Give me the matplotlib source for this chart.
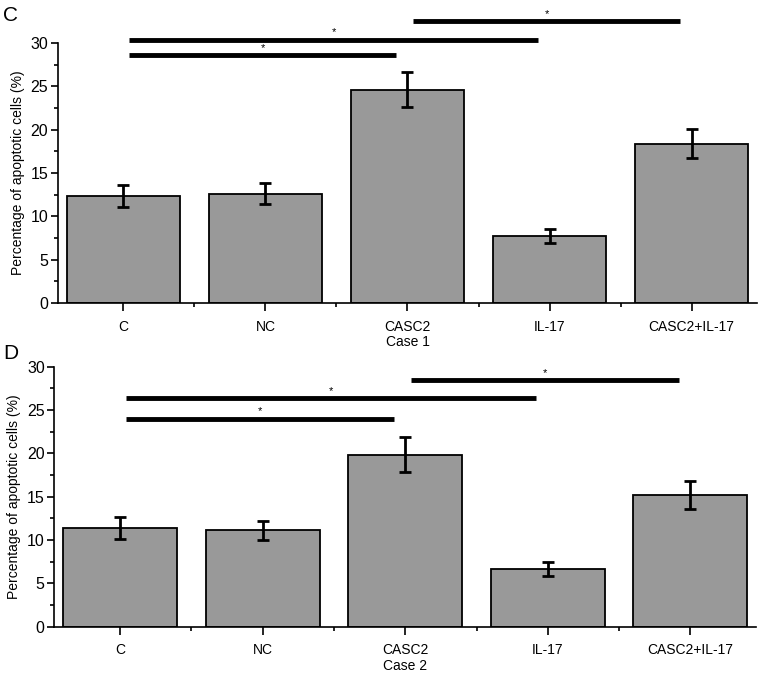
import matplotlib.pyplot as plt
import numpy as np

plt.rcParams['font.family'] = ['Liberation Sans', 'DejaVu Sans']

groups = ["C", "NC", "CASC2", "IL-17", "CASC2+IL-17"]

# Case 1 (panel C)
case1_mean = [12.35, 12.6, 24.6, 7.75, 18.4]
case1_err = [1.25, 1.2, 2.0, 0.8, 1.65]
# Case 2 (panel D)
case2_mean = [11.35, 11.1, 19.85, 6.65, 15.2]
case2_err = [1.25, 1.15, 2.05, 0.8, 1.6]

# significance brackets: (start group, end group, height)
case1_sig = [(0, 2, 28.6), (0, 3, 30.4), (2, 4, 32.5)]
case2_sig = [(0, 2, 24.0), (0, 3, 26.35), (2, 4, 28.45)]


def draw_panel(ax, means, errs, sigs, xlabel):
    x = np.arange(len(groups))
    ax.bar(x, means, width=0.8, color="#999999", edgecolor="black", linewidth=1.3, zorder=2)
    ax.errorbar(x, means, yerr=errs, fmt="none", ecolor="black", elinewidth=2,
                capsize=4, capthick=2, zorder=3)

    for a, b, h in sigs:
        x0, x1 = a + 0.04, b - 0.08
        ax.plot([x0, x1], [h, h], color="black", lw=3.5, solid_capstyle="butt",
                clip_on=False, zorder=4)
        ax.text((x0 + x1) / 2, h + 0.85, "*", ha="center", va="center", fontsize=8,
                clip_on=False)

    ax.set_xlim(-0.46, 4.46)
    ax.set_ylim(0, 30)
    ax.set_xticks(x)
    ax.set_xticklabels(groups, fontsize=10)
    ax.set_xticks(x[:-1] + 0.5, minor=True)
    ax.set_yticks(np.arange(0, 31, 5))
    ax.set_yticks(np.arange(2.5, 30, 5), minor=True)
    ax.tick_params(axis="y", labelsize=11.5, length=5, width=1.2, pad=2)
    ax.tick_params(axis="y", which="minor", length=3, width=1.2)
    ax.tick_params(axis="x", length=6, width=1.2, pad=6)
    ax.tick_params(axis="x", which="minor", length=3, width=1.2)
    for s in ["top", "right"]:
        ax.spines[s].set_visible(False)
    for s in ["left", "bottom"]:
        ax.spines[s].set_linewidth(1.2)
    ax.set_xlabel(xlabel, fontsize=10, labelpad=1)
    ax.set_ylabel("Percentage of apoptotic cells (%)", fontsize=10, labelpad=4)
    return ax


fig = plt.figure(figsize=(7.65, 6.74), dpi=100)
ax1 = fig.add_axes([0.0758, 0.5504, 0.9137, 0.3858])
ax2 = fig.add_axes([0.0712, 0.0702, 0.9170, 0.3858])

draw_panel(ax1, case1_mean, case1_err, case1_sig, "Case 1")
draw_panel(ax2, case2_mean, case2_err, case2_sig, "Case 2")

fig.text(0.004, 0.977, "C", fontsize=15, ha="left", va="center")
fig.text(0.004, 0.476, "D", fontsize=15, ha="left", va="center")

fig.savefig("out.png", dpi=100)
